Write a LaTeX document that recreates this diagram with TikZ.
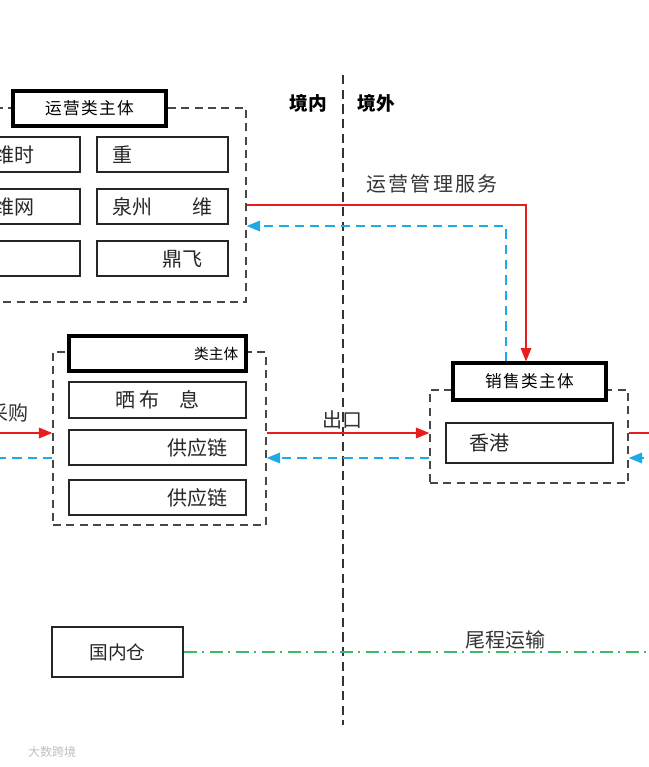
\documentclass[tikz,border=0pt]{standalone}
\usepackage{fontspec}
\setmainfont{Noto Sans CJK SC}
\usetikzlibrary{arrows.meta,positioning,calc}
\definecolor{flowred}{RGB}{232,30,30}
\definecolor{infoblue}{RGB}{30,170,230}
\definecolor{tailgreen}{RGB}{60,185,105}

\begin{document}
\begin{tikzpicture}[x=0.75pt,y=-0.75pt,font=\small,
  grp/.style={draw=black!72,line width=1.1pt,dash pattern=on 6pt off 4pt,inner sep=0pt},
  ttl/.style={draw,line width=2.4pt,fill=white,inner sep=0pt,font=\fontsize{12.5}{14}\selectfont\addfontfeature{LetterSpace=8}},
  itm/.style={draw=black!85,line width=1pt,fill=white,inner sep=0pt,font=\fontsize{15}{17}\selectfont,text=black!85},
  goods/.style={draw=flowred,line width=0.9pt,-{Triangle[length=10pt,width=8pt]}},
  info/.style={draw=infoblue,line width=0.9pt,dash pattern=on 7pt off 4.5pt,-{Triangle[length=10pt,width=8pt]}},
  lbl/.style={font=\fontsize{15}{17}\selectfont,text=black!80}]
  \useasboundingbox (0,0) rectangle (649,767);

  % border line
  \coordinate (divtop) at (343,75);
  \coordinate (divbot) at (343,725);
  \draw[black!80,line width=1.1pt,dash pattern=on 7pt off 4pt] (divtop) -- (divbot);
  \node[font=\fontsize{14}{16}\selectfont\bfseries] (inside) at (308,103) {境内};
  \node[font=\fontsize{14}{16}\selectfont\bfseries] (outside) at (376,103) {境外};

  % operations group
  \begin{scope}
    \node[grp,minimum width=192pt,minimum height=145.5pt] (ops) at (118,205) {};
    \node[ttl,minimum width=114.75pt,minimum height=26.25pt] (otl) at (89.5,108.5) {运营类主体};
    \foreach \n/\x/\y/\t in {a/14.5/154.5/{\phantom{思}维时\phantom{代}},
                             b/14.5/206.5/{\phantom{思}维网\phantom{络}},
                             c/14.5/258.5/{},
                             d/162.5/154.5/{重\phantom{庆兰科技}},
                             e/162.5/206.5/{泉州\phantom{思科}维},
                             f/162.5/258.5/{\phantom{广州}鼎飞}}{
      \node[itm,minimum width=98.25pt,minimum height=26.25pt] (o\n) at (\x,\y) {\t};
    }
  \end{scope}

  % purchasing group
  \begin{scope}
    \node[grp,minimum width=159.75pt,minimum height=129.75pt] (pgrp) at (159.5,438.5) {};
    \node[ttl,minimum width=132.75pt,minimum height=26.25pt,font=\fontsize{11}{13}\selectfont] (ptl) at (157.5,353.5) {\phantom{采购供应商主体采}类主体};
    \node[itm,minimum width=132.75pt,minimum height=27pt] (pa) at (157.5,400) {\addfontfeature{LetterSpace=18}晒布\phantom{信}息};
    \node[itm,minimum width=132.75pt,minimum height=26.25pt] (pb) at (157.5,447.5) {\phantom{劳动赛诺}供应链};
    \node[itm,minimum width=132.75pt,minimum height=26.25pt] (pc) at (157.5,497.5) {\phantom{广州鼎飞}供应链};
  \end{scope}

  % sales group
  \begin{scope}
    \node[grp,minimum width=148.5pt,minimum height=69.75pt] (sgrp) at (529,436.5) {};
    \node[ttl,minimum width=114.75pt,minimum height=27.75pt] (stl) at (529.5,381.5) {销售类主体};
    \node[itm,minimum width=125.25pt,minimum height=30pt] (sa) at (529.5,443) {香港\phantom{三维科技}};
  \end{scope}

  % warehouse
  \node[itm,minimum width=98.25pt,minimum height=37.5pt,font=\fontsize{14}{16}\selectfont] (wh) at (117.5,652) {国内仓};

  % flows
  \draw[goods] (ops.east) -| ($(stl.north)+(-3.5,0)$);
  \draw[info] ($(stl.north)+(-23.5,0)$) |- ($(ops.east)+(0,21)$);
  \node[lbl] (mgmt) at (432,184) {\addfontfeature{LetterSpace=12}运营管理服务};

  \coordinate (buyin) at (-5,433);
  \coordinate (buyback) at (-30,458);
  \draw[goods] (buyin) -- (pgrp.west |- buyin);
  \draw[info] (pgrp.west |- buyback) -- (buyback);
  \node[lbl] (buy) at (8,413) {采购};

  \coordinate (exp) at (300,433);
  \coordinate (expback) at (300,458);
  \draw[goods] (pgrp.east |- exp) -- (sgrp.west |- exp);
  \draw[info] (sgrp.west |- expback) -- (pgrp.east |- expback);
  \node[lbl] (export) at (342,420) {出口};

  \coordinate (sellout) at (690,433);
  \coordinate (sellback) at (690,458);
  \draw[goods] (sgrp.east |- sellout) -- (sellout);
  \draw[info] (sellback) -- (sgrp.east |- sellback);

  \coordinate (tailend) at (660,652);
  \draw[tailgreen,line width=1.1pt,dash pattern=on 10pt off 4pt on 1.5pt off 4pt] (wh.east) -- (tailend);
  \node[lbl] (tail) at (505,640) {尾程运输};

  \node[text=black!25,font=\fontsize{9}{10}\selectfont] (wm) at (52,752) {大数跨境};
\end{tikzpicture}
\end{document}
